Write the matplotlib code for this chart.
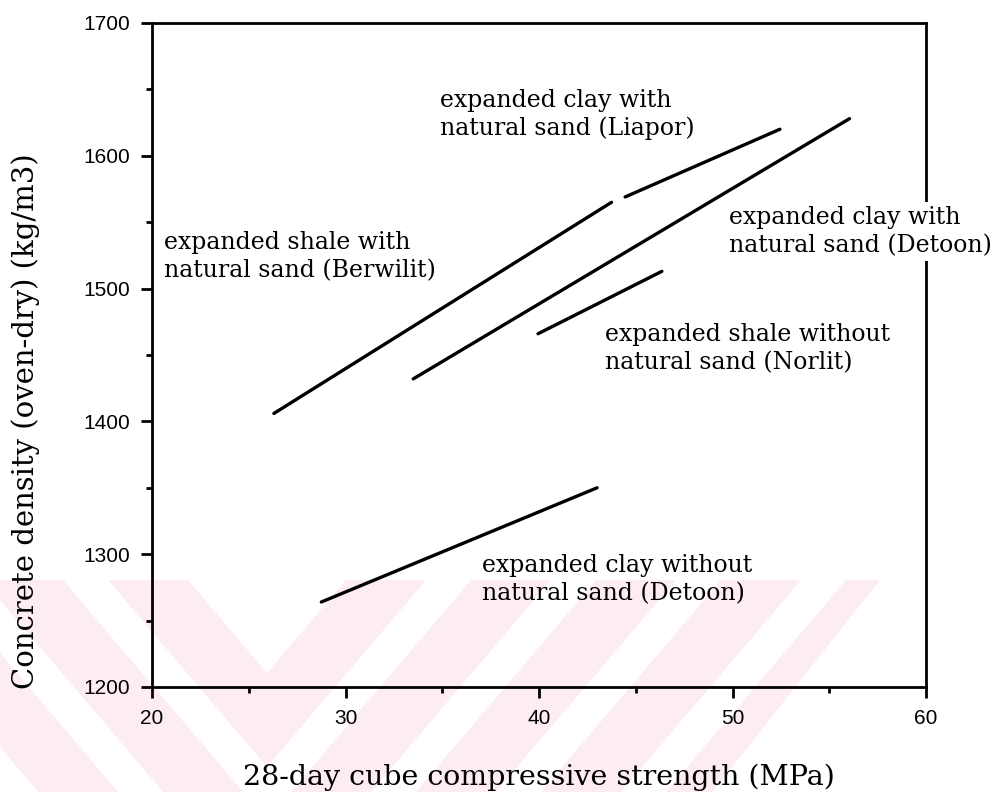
import matplotlib
matplotlib.use("Agg")
import matplotlib.pyplot as plt
from matplotlib.patches import Polygon
from matplotlib.ticker import MultipleLocator

# ------------------------------------------------
# Datos (resistencia MPa, densidad kg/m3)
# ------------------------------------------------
berwilit_x = [26.3, 43.75]
berwilit_y = [1406, 1565]

liapor_x = [44.45, 52.45]
liapor_y = [1569, 1620]

detoon_sand_x = [33.5, 56.05]
detoon_sand_y = [1432, 1628]

norlit_x = [39.95, 46.35]
norlit_y = [1466, 1513]

detoon_nosand_x = [28.75, 43.0]
detoon_nosand_y = [1264, 1350]

x_ticks = [20, 30, 40, 50, 60]
y_ticks = [1200, 1300, 1400, 1500, 1600, 1700]

W, H = 997, 792
fig = plt.figure(figsize=(W / 100, H / 100), dpi=100)
ax = fig.add_axes([152 / W, 1 - 687 / H, (926 - 152) / W, (687 - 23) / H])
ax.set_facecolor("none")


def px(x, y):
    # pixeles (origen arriba-izquierda) -> fracción de figura
    return (x / W, 1 - y / H)


# marca de agua rosa (chevrones anidados)
pink = "#fdedf0"
apex_x, apex_y, top_y = 267, 673, 580
band, gap, slope = 80, 45, 0.85
for k in range(5):
    inner = k * (band + gap)
    outer = inner + band
    dy_in = (apex_y - top_y) + inner / slope
    dy_out = (apex_y - top_y) + outer / slope
    pts = [
        (apex_x - dy_out * slope, top_y),
        (apex_x - dy_in * slope, top_y),
        (apex_x, top_y + dy_in),
        (min(apex_x + dy_in * slope, 880), top_y),
        (min(apex_x + dy_out * slope, 880), top_y),
        (apex_x, top_y + dy_out),
    ]
    fig.add_artist(Polygon([px(*p) for p in pts], closed=True,
                           transform=fig.transFigure, facecolor=pink,
                           edgecolor="none", zorder=0))

# líneas
lw = 2.4
for xs, ys in [(berwilit_x, berwilit_y), (liapor_x, liapor_y),
               (detoon_sand_x, detoon_sand_y), (norlit_x, norlit_y),
               (detoon_nosand_x, detoon_nosand_y)]:
    ax.plot(xs, ys, color="black", lw=lw, solid_capstyle="round", zorder=3)

serif = "DejaVu Serif"
fs = 17
txt = dict(family=serif, fontsize=fs, linespacing=1.28, va="center", ha="left")
ax.text(34.9, 1631, "expanded clay with\nnatural sand (Liapor)", **txt)
ax.text(20.6, 1524, "expanded shale with\nnatural sand (Berwilit)", **txt)
ax.text(49.8, 1543, "expanded clay with\nnatural sand (Detoon)",
        bbox=dict(facecolor="white", edgecolor="none", pad=3), zorder=4, **txt)
ax.text(43.4, 1455, "expanded shale without\nnatural sand (Norlit)", **txt)
ax.text(37.05, 1281, "expanded clay without\nnatural sand (Detoon)", **txt)

ax.set_xlim(20, 60)
ax.set_ylim(1200, 1700)
ax.set_xticks(x_ticks)
ax.set_yticks(y_ticks)
ax.xaxis.set_minor_locator(MultipleLocator(5))
ax.yaxis.set_minor_locator(MultipleLocator(50))
ax.tick_params(which="major", direction="out", length=8, width=2,
               labelsize=15)
ax.tick_params(axis="x", which="major", pad=8)
ax.tick_params(axis="y", which="major", pad=8)
ax.tick_params(which="minor", direction="out", length=4.5, width=2)
for lab in ax.get_xticklabels() + ax.get_yticklabels():
    lab.set_family("Liberation Sans")

for s in ax.spines.values():
    s.set_linewidth(2)

ax.set_xlabel("28-day cube compressive strength (MPa)", family=serif,
              fontsize=20.5)
ax.set_ylabel("Concrete density (oven-dry) (kg/m3)", family=serif,
              fontsize=21)
ax.xaxis.set_label_coords(0.5, -0.115)
ax.yaxis.set_label_coords(-0.145, 0.40)

fig.savefig("out.png", dpi=100)
plt.close(fig)
